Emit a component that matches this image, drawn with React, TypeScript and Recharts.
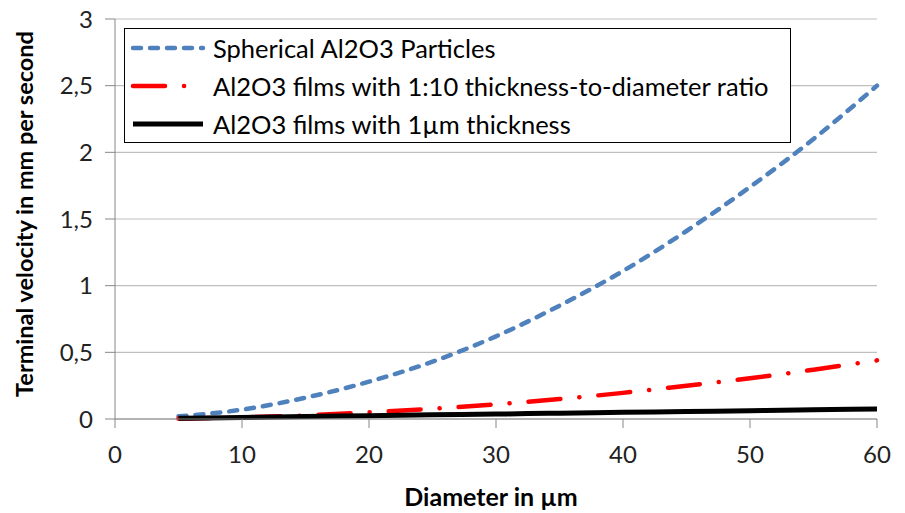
import React from "react";
import { LineChart, Line, XAxis, YAxis, CartesianGrid, Label } from "recharts";

const diameters = [5, 10, 15, 20, 25, 30, 35, 40, 45, 50, 55, 60];
const spherical = [0.02, 0.07, 0.16, 0.28, 0.43, 0.62, 0.85, 1.11, 1.41, 1.74, 2.1, 2.5];
const filmsRatio = [0.003, 0.012, 0.027, 0.05, 0.077, 0.11, 0.15, 0.196, 0.25, 0.305, 0.37, 0.44];
const films1um = [0.006, 0.012, 0.019, 0.025, 0.031, 0.037, 0.044, 0.05, 0.056, 0.062, 0.069, 0.075];

const xTicks = [0, 10, 20, 30, 40, 50, 60];
const yTicks = [0, 0.5, 1, 1.5, 2, 2.5, 3];

const series = [
  { key: "spherical", name: "Spherical Al2O3 Particles", color: "#4F81BD", dash: "8 9", width: 4.5 },
  { key: "ratio", name: "Al2O3 films with 1:10 thickness-to-diameter ratio", color: "#FF0000", dash: "32 19 0.1 19", width: 4.5 },
  { key: "thick", name: "Al2O3 films with 1µm thickness", color: "#000000", dash: undefined, width: 5 },
];

const data = diameters.map((d, i) => ({
  d,
  spherical: spherical[i],
  ratio: filmsRatio[i],
  thick: films1um[i],
}));

const font = "Lato, 'Open Sans', sans-serif";

// legend box sits over the plot area, so it is drawn as an overlay
const LegendBox = () => (
  <div
    style={{
      position: "absolute",
      left: 124,
      top: 28,
      width: 667,
      height: 115,
      boxSizing: "border-box",
      border: "1.5px solid #000",
      background: "#fff",
      padding: "0 0 0 5px",
      fontFamily: font,
      fontSize: 25.5,
      color: "#000",
    }}
  >
    {series.map((s) => (
      <div key={s.key} style={{ display: "flex", alignItems: "center", height: 38, whiteSpace: "nowrap" }}>
        <svg width={76} height={10} style={{ marginRight: 7 }}>
          <line
            x1={3}
            y1={5}
            x2={73}
            y2={5}
            stroke={s.color}
            strokeWidth={s.width}
            strokeDasharray={s.dash}
            strokeLinecap={s.dash ? "round" : "butt"}
          />
        </svg>
        <span>{s.name}</span>
      </div>
    ))}
  </div>
);

export default function App() {
  return (
    <div style={{ position: "absolute", left: 0, top: 0, width: 905, height: 513, background: "#fff", fontFamily: font }}>
      <LineChart width={905} height={513} data={data} margin={{ top: 19, right: 28, bottom: 0, left: 0 }}>
        <CartesianGrid vertical={false} stroke="#bfbfbf" strokeWidth={1.2} />
        <XAxis
          dataKey="d"
          type="number"
          domain={[0, 60]}
          ticks={xTicks}
          height={94}
          stroke="#888"
          tickSize={9}
          tickMargin={18}
          tick={{ fill: "#222", fontSize: 24, fontFamily: font }}
        >
          <Label
            content={({ viewBox }: any) => (
              <text
                x={viewBox.x + viewBox.width / 2 - 5}
                y={506}
                textAnchor="middle"
                fontSize={25}
                fontWeight="bold"
                fontFamily={font}
                fill="#000"
              >
                Diameter in µm
              </text>
            )}
          />
        </XAxis>
        <YAxis
          type="number"
          domain={[0, 3]}
          ticks={yTicks}
          width={115}
          stroke="#888"
          tickSize={10}
          tickMargin={12}
          tickFormatter={(v: number) => String(v).replace(".", ",")}
          tick={{ fill: "#222", fontSize: 24, fontFamily: font }}
        >
          <Label
            content={({ viewBox }: any) => {
              const cy = viewBox.y + viewBox.height / 2 - 5;
              return (
                <text
                  x={33}
                  y={cy}
                  transform={`rotate(-90, 33, ${cy})`}
                  textAnchor="middle"
                  fontSize={23.5}
                  fontWeight="bold"
                  fontFamily={font}
                  fill="#000"
                >
                  Terminal velocity in mm per second
                </text>
              );
            }}
          />
        </YAxis>
        {series.map((s) => (
          <Line
            key={s.key}
            dataKey={s.key}
            name={s.name}
            type="monotone"
            stroke={s.color}
            strokeWidth={s.width}
            strokeDasharray={s.dash}
            strokeLinecap={s.dash ? "round" : "butt"}
            dot={false}
            activeDot={false}
            isAnimationActive={false}
          />
        ))}
      </LineChart>
      <LegendBox />
    </div>
  );
}
